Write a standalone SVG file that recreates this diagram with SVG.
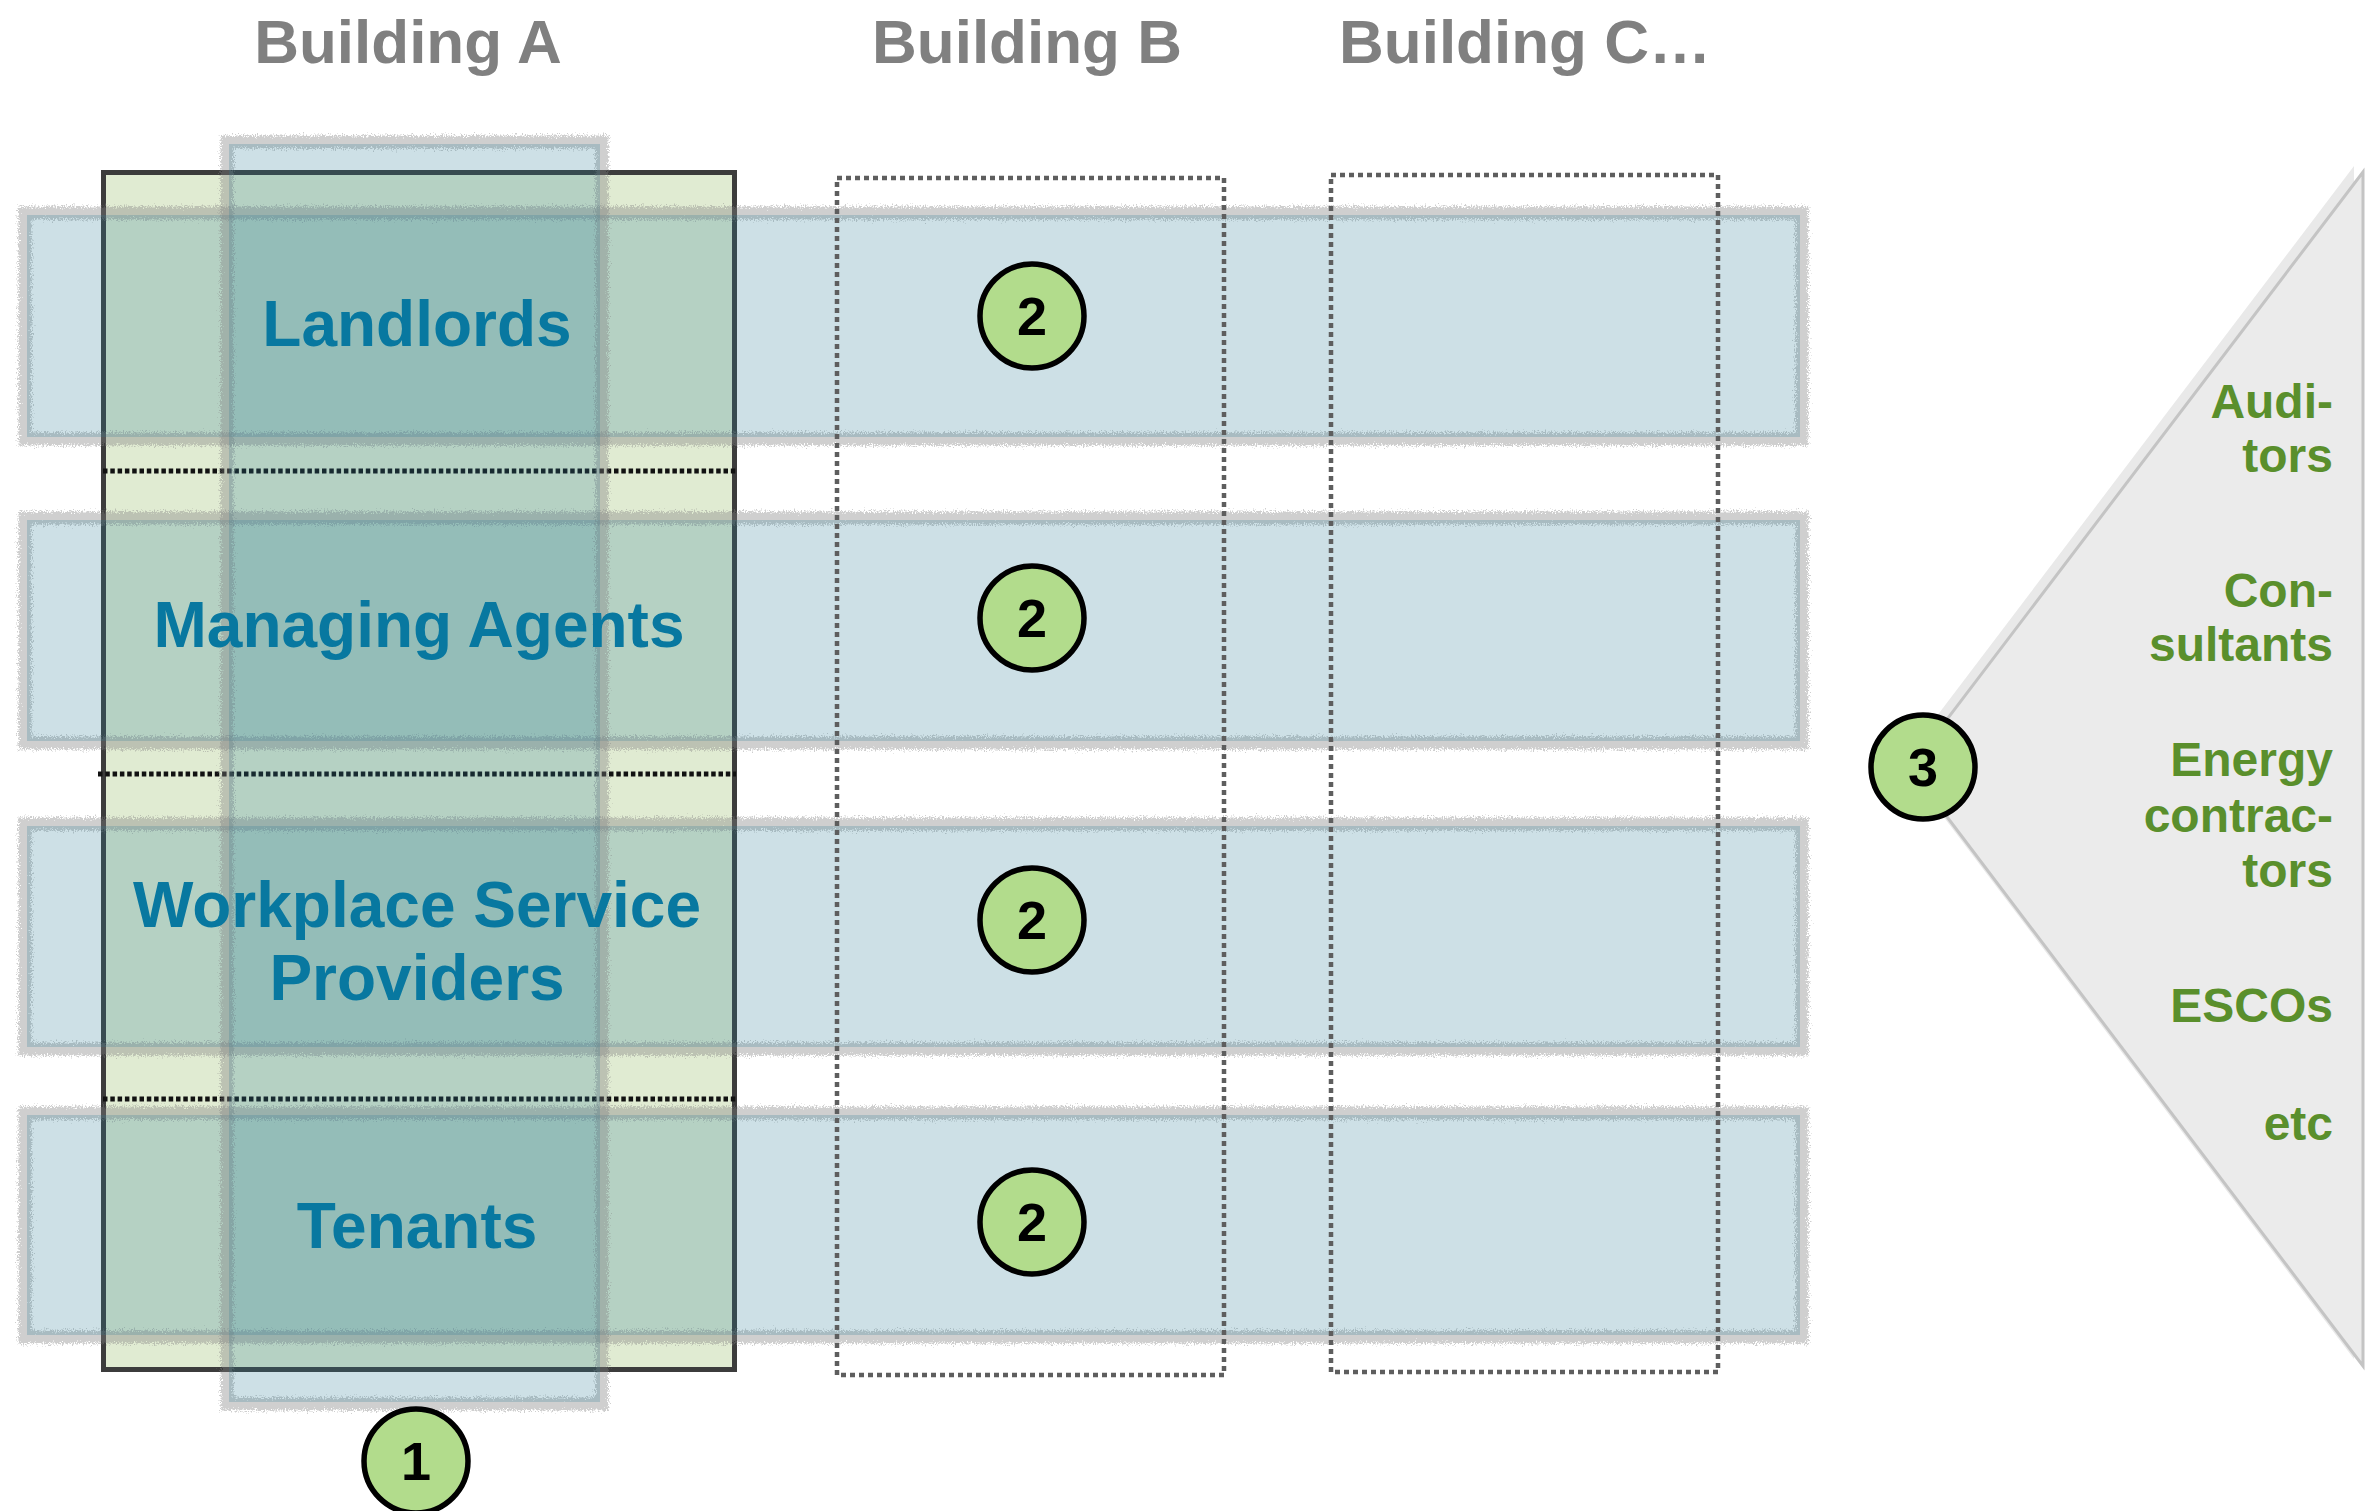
<svg xmlns="http://www.w3.org/2000/svg" width="2375" height="1511" viewBox="0 0 2375 1511">
  <defs>
    <filter id="rough" x="-0.05" y="-0.2" width="1.1" height="1.4">
      <feTurbulence type="fractalNoise" baseFrequency="0.9 0.6" numOctaves="3" seed="7" result="n"/>
      <feDisplacementMap in="SourceGraphic" in2="n" scale="11" xChannelSelector="R" yChannelSelector="G"/>
    </filter>
    <style>
      .title { font-family: "Liberation Sans", Arial, sans-serif; font-weight: bold; font-size: 62px; fill: #808080; text-anchor: middle; }
      .lbl { font-family: "Liberation Sans", Arial, sans-serif; font-weight: bold; font-size: 64px; fill: #0878a0; text-anchor: middle; }
      .side { font-family: "Liberation Sans", Arial, sans-serif; font-weight: bold; font-size: 48px; fill: #5a8f2c; text-anchor: end; }
      .num { font-family: "Liberation Sans", Arial, sans-serif; font-weight: bold; font-size: 54px; fill: #000; text-anchor: middle; }
      .badge { fill: #b2dc8c; stroke: #000; stroke-width: 5.5; }
      .blue { fill: rgb(46,126,151); fill-opacity: 0.24; }
      .shadow { fill: none; stroke: rgb(130,130,130); stroke-opacity: 0.38; stroke-width: 13; filter: url(#rough); }
      .dots { stroke: #111; stroke-width: 5; stroke-dasharray: 4.5 2.8; fill: none; }
      .bldg { fill: none; stroke: #5e5e5e; stroke-width: 4.5; stroke-dasharray: 5 4; }
    </style>
  </defs>

  <g id="titles">
    <text class="title" x="408" y="63">Building A</text>
    <text class="title" x="1027" y="63">Building B</text>
    <text class="title" x="1525" y="63">Building C…</text>
  </g>

  <g id="building-a-box">
    <rect x="103.5" y="172.5" width="631" height="1197" fill="#e0ebd2" stroke="#3c3c3c" stroke-width="5"/>
    <line class="dots" x1="103" y1="471" x2="736" y2="471"/>
    <line class="dots" x1="98" y1="774" x2="736" y2="774"/>
    <line class="dots" x1="103" y1="1099" x2="736" y2="1099"/>
  </g>

  <g id="row-landlords">
    <rect class="shadow" x="25" y="213" width="1777" height="226"/>
    <rect class="blue" x="27" y="215" width="1773" height="222"/>
  </g>
  <g id="row-managing-agents">
    <rect class="shadow" x="25" y="518" width="1777" height="225"/>
    <rect class="blue" x="27" y="520" width="1773" height="221"/>
  </g>
  <g id="row-workplace">
    <rect class="shadow" x="25" y="824" width="1777" height="225"/>
    <rect class="blue" x="27" y="826" width="1773" height="221"/>
  </g>
  <g id="row-tenants">
    <rect class="shadow" x="25" y="1113" width="1777" height="224"/>
    <rect class="blue" x="27" y="1115" width="1773" height="220"/>
  </g>

  <g id="column-a">
    <rect class="shadow" x="227" y="142" width="375" height="1262"/>
    <rect class="blue" x="229" y="144" width="371" height="1258"/>
  </g>

  <g id="building-b">
    <rect class="bldg" x="837" y="178" width="387" height="1197"/>
  </g>
  <g id="building-c">
    <rect class="bldg" x="1331" y="175" width="387" height="1197"/>
  </g>

  <g id="labels">
    <text class="lbl" x="417" y="346">Landlords</text>
    <text class="lbl" x="419" y="647">Managing Agents</text>
    <text class="lbl" x="417" y="927">Workplace Service</text>
    <text class="lbl" x="417" y="1000">Providers</text>
    <text class="lbl" x="417" y="1248">Tenants</text>
  </g>

  <g id="callout-3">
    <polygon points="1902,762 2354,166 2354,1359" fill="#e9e9e9"/>
    <polygon points="1910,768 2363,172 2363,1366" fill="#ebebeb" stroke="#c4c4c4" stroke-width="3"/>
    <text class="side" x="2333" y="418">Audi-</text>
    <text class="side" x="2333" y="472">tors</text>
    <text class="side" x="2333" y="607">Con-</text>
    <text class="side" x="2333" y="661">sultants</text>
    <text class="side" x="2333" y="776">Energy</text>
    <text class="side" x="2333" y="832">contrac-</text>
    <text class="side" x="2333" y="887">tors</text>
    <text class="side" x="2333" y="1022">ESCOs</text>
    <text class="side" x="2333" y="1140">etc</text>
  </g>

  <g id="badge-1">
    <circle class="badge" cx="416" cy="1461" r="52"/>
    <text class="num" x="416" y="1480">1</text>
  </g>
  <g id="badge-2a">
    <circle class="badge" cx="1032" cy="316" r="52"/>
    <text class="num" x="1032" y="335">2</text>
  </g>
  <g id="badge-2b">
    <circle class="badge" cx="1032" cy="618" r="52"/>
    <text class="num" x="1032" y="637">2</text>
  </g>
  <g id="badge-2c">
    <circle class="badge" cx="1032" cy="920" r="52"/>
    <text class="num" x="1032" y="939">2</text>
  </g>
  <g id="badge-2d">
    <circle class="badge" cx="1032" cy="1222" r="52"/>
    <text class="num" x="1032" y="1241">2</text>
  </g>
  <g id="badge-3">
    <circle class="badge" cx="1923" cy="767" r="52"/>
    <text class="num" x="1923" y="786">3</text>
  </g>
</svg>
